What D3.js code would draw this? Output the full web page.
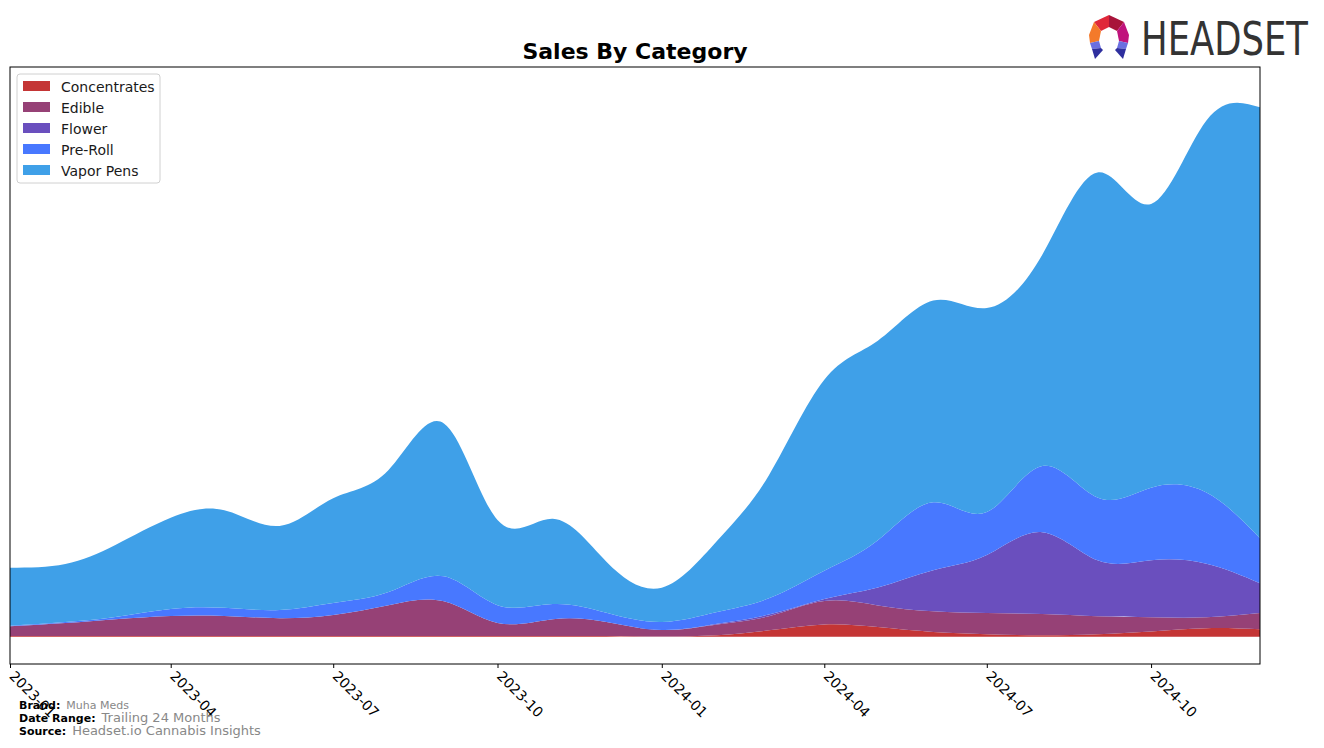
<!DOCTYPE html>
<html>
<head>
<meta charset="utf-8">
<script src="https://cdn.jsdelivr.net/npm/d3@7"></script>
<style>
  html, body { margin: 0; padding: 0; background: #fff; }
  svg { display: block; font-family: "DejaVu Sans", sans-serif; }
</style>
</head>
<body>
<svg id="chart" width="1324" height="748"></svg>
<script>
const months = [
  "2023-01", "2023-02", "2023-03", "2023-04", "2023-05", "2023-06",
  "2023-07", "2023-08", "2023-09", "2023-10", "2023-11", "2023-12",
  "2024-01", "2024-02", "2024-03", "2024-04", "2024-05", "2024-06",
  "2024-07", "2024-08", "2024-09", "2024-10", "2024-11", "2024-12",
];

const categories = ["Concentrates", "Edible", "Flower", "Pre-Roll", "Vapor Pens"];
const colors = ["#c43535", "#964176", "#6a4fbe", "#4878ff", "#3fa0e8"];

const concentrates = [0.15, 0.15, 0.15, 0.15, 0.15, 0.15, 0.15, 0.15, 0.15, 0.15, 0.15, 0.15,
  0.05, 0.3, 1.2, 2.3, 1.8, 0.9, 0.5, 0.3, 0.5, 1.0, 1.6, 1.4];
const edible = [1.8, 2.4, 3.1, 3.7, 3.7, 3.3, 3.9, 5.7, 6.4, 2.4, 3.1, 2.6,
  1.2, 2.0, 2.6, 4.3, 4.0, 3.8, 3.9, 3.9, 3.3, 2.6, 2.0, 3.0];
const flower = [0, 0, 0, 0, 0, 0, 0, 0, 0, 0, 0, 0,
  0, 0.1, 0.3, 0.4, 3.3, 7.6, 10.7, 15.1, 10.3, 10.5, 9.9, 5.5];
const preRoll = [0.1, 0.2, 0.4, 1.3, 1.5, 1.5, 2.2, 2.4, 4.6, 3.3, 2.8, 1.7,
  1.5, 2.2, 3.0, 5.2, 8.7, 12.5, 7.9, 12.2, 11.6, 13.4, 13.1, 8.3];
const vaporPens = [10.7, 10.7, 13.3, 16.8, 18.0, 15.5, 19.3, 22.5, 28.2, 15.7, 15.7, 9.4,
  6.3, 13.1, 22.7, 35.2, 36.8, 37.2, 37.6, 38.9, 59.9, 52.3, 68.6, 79.4];

const xTicks = ["2023-01", "2023-04", "2023-07", "2023-10", "2024-01", "2024-04", "2024-07", "2024-10"];

const footer = [
  ["Brand:", "Muha Meds", 11],
  ["Date Range:", "Trailing 24 Months", 13],
  ["Source:", "Headset.io Cannabis Insights", 13],
];

const parseMonth = d3.utcParse("%Y-%m");
const series = [concentrates, edible, flower, preRoll, vaporPens];
const table = months.map((m, i) => {
  const row = { date: parseMonth(m) };
  categories.forEach((c, k) => { row[c] = series[k][i]; });
  return row;
});

const svg = d3.select("#chart");
const plot = { left: 10, right: 1260, top: 67, bottom: 664 };

const x = d3.scaleUtc()
  .domain(d3.extent(table, (d) => d.date))
  .range([plot.left, plot.right]);

const stacked = d3.stack().keys(categories)(table);
const peak = d3.max(stacked[stacked.length - 1], (d) => d[1]) * 1.025;
const y = d3.scaleLinear()
  .domain([-peak * 0.05, peak * 1.05])
  .range([plot.bottom, plot.top]);

svg.append("defs").append("clipPath").attr("id", "plot-clip")
  .append("rect")
  .attr("x", plot.left).attr("y", plot.top)
  .attr("width", plot.right - plot.left).attr("height", plot.bottom - plot.top);

const area = d3.area()
  .x((d) => x(d.data.date))
  .y0((d) => y(d[0]))
  .y1((d) => y(d[1]))
  .curve(d3.curveNatural);

svg.append("g")
  .attr("clip-path", "url(#plot-clip)")
  .selectAll("path")
  .data(stacked)
  .join("path")
  .attr("fill", (d, i) => colors[i])
  .attr("d", area);

// frame
svg.append("rect")
  .attr("x", plot.left).attr("y", plot.top)
  .attr("width", plot.right - plot.left).attr("height", plot.bottom - plot.top)
  .attr("fill", "none").attr("stroke", "#000").attr("stroke-width", 1);

// x axis
const xAxis = svg.append("g")
  .attr("transform", `translate(0,${plot.bottom})`)
  .call(d3.axisBottom(x)
    .tickValues(xTicks.map(parseMonth))
    .tickFormat(d3.utcFormat("%Y-%m"))
    .tickSize(4)
    .tickSizeOuter(0));
xAxis.select(".domain").remove();
xAxis.selectAll(".tick line").attr("stroke", "#000");
xAxis.selectAll(".tick text")
  .attr("font-family", "DejaVu Sans, sans-serif")
  .attr("font-size", 14)
  .attr("fill", "#000")
  .attr("text-anchor", "start")
  .attr("dy", null)
  .attr("y", 0)
  .attr("transform", "translate(-2,13) rotate(45)");

// title
svg.append("text")
  .attr("x", 635)
  .attr("y", 59)
  .attr("text-anchor", "middle")
  .attr("font-size", 22)
  .attr("font-weight", "bold")
  .text("Sales By Category");

// legend
const legend = svg.append("g").attr("transform", "translate(17,74)");
legend.append("rect")
  .attr("width", 143).attr("height", 109)
  .attr("rx", 3)
  .attr("fill", "#fff").attr("fill-opacity", 0.8)
  .attr("stroke", "#d0d0d0");
const items = legend.selectAll("g.item")
  .data(categories)
  .join("g")
  .attr("class", "item")
  .attr("transform", (d, i) => `translate(6,${7 + i * 21})`);
items.append("rect")
  .attr("width", 27).attr("height", 10)
  .attr("fill", (d, i) => colors[i]);
items.append("text")
  .attr("x", 38).attr("y", 10.5)
  .attr("font-size", 14)
  .attr("fill", "#1a1a1a")
  .text((d) => d);

// footer notes
const notes = svg.append("g");
footer.forEach(([label, value, size], i) => {
  const t = notes.append("text")
    .attr("x", 19)
    .attr("y", 709 + i * 12.8);
  t.append("tspan").attr("font-size", 11).attr("font-weight", "bold").attr("fill", "#000").text(label);
  t.append("tspan").attr("font-size", size).attr("fill", "#888").attr("dx", 6).text(value);
});

// logo
const logo = svg.append("g").attr("transform", "translate(1109,37)");
const logoParts = [
  ["#e0283a", "0,-22 -15,-15 -8,-6 0,-10"],
  ["#a8143a", "0,-22 15,-15 8,-6 0,-10"],
  ["#f47a2a", "-15,-15 -20,-2 -19,6 -10,4 -8,-6"],
  ["#c0137c", "15,-15 20,-2 19,6 10,4 8,-6"],
  ["#6b6fe0", "-19,6 -10,4 -8,11 -17,12"],
  ["#2e2f9e", "-17,12 -8,11 -6,13 -14,22"],
  ["#6b6fe0", "19,6 10,4 8,11 17,12"],
  ["#2e2f9e", "17,12 8,11 6,13 14,22"],
];
logo.selectAll("polygon")
  .data(logoParts)
  .join("polygon")
  .attr("fill", (d) => d[0])
  .attr("points", (d) => d[1]);

// wordmark squeezed to the reference width with a transform
const word = svg.append("g");
const wordText = word.append("text")
  .attr("font-size", 46)
  .attr("fill", "#333")
  .text("HEADSET");
const naturalWidth = wordText.node().getComputedTextLength() || 225;
word.attr("transform", `translate(1141,55) scale(${167 / naturalWidth},1)`);
</script>
</body>
</html>
